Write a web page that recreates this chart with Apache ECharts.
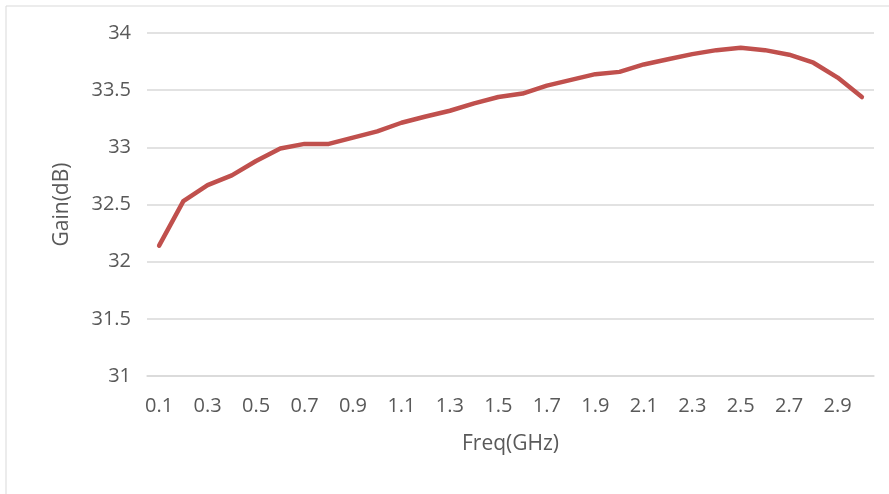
<!DOCTYPE html>
<html>
<head>
<meta charset="utf-8">
<script src="https://cdn.jsdelivr.net/npm/echarts@6/dist/echarts.min.js"></script>
<style>
html,body{margin:0;padding:0;background:#fff;}
#c{width:889px;height:494px;}
</style>
</head>
<body>
<div id="c"></div>
<script>
var categories = ['0.1','0.2','0.3','0.4','0.5','0.6','0.7','0.8','0.9','1','1.1','1.2','1.3','1.4','1.5','1.6','1.7','1.8','1.9','2','2.1','2.2','2.3','2.4','2.5','2.6','2.7','2.8','2.9','3'];
var gain = [32.14,32.53,32.67,32.755,32.88,32.99,33.03,33.03,33.085,33.14,33.215,33.27,33.32,33.385,33.44,33.47,33.54,33.59,33.64,33.66,33.725,33.77,33.815,33.85,33.87,33.85,33.81,33.74,33.61,33.44];
var xName = 'Freq(GHz)';
var yName = 'Gain(dB)';

var chart = echarts.init(document.getElementById('c'));
var font = '"Open Sans", "Noto Sans", sans-serif';
chart.setOption({
  animation: false,
  backgroundColor: '#ffffff',
  graphic: [{
    type: 'rect',
    shape: {x: 6, y: 6, width: 900, height: 500},
    style: {fill: 'none', stroke: '#d9d9d9', lineWidth: 1},
    silent: true
  }],
  grid: {left: 147, right: 15, top: 33, bottom: 118, containLabel: false},
  xAxis: {
    type: 'category',
    data: categories,
    boundaryGap: true,
    name: xName,
    nameLocation: 'middle',
    nameGap: 58,
    nameTextStyle: {color: '#595959', fontSize: 21, fontFamily: font},
    axisLine: {show: true, lineStyle: {color: '#d9d9d9', width: 1.5}},
    axisTick: {show: false},
    axisLabel: {interval: 1, color: '#595959', fontSize: 20, fontFamily: font, margin: 20}
  },
  yAxis: {
    type: 'value',
    min: 31,
    max: 34,
    interval: 0.5,
    name: yName,
    nameLocation: 'middle',
    nameGap: 74,
    nameRotate: 90,
    nameTextStyle: {color: '#595959', fontSize: 21, fontFamily: font},
    axisLine: {show: false},
    axisTick: {show: false},
    axisLabel: {color: '#595959', fontSize: 20, fontFamily: font, margin: 16},
    splitLine: {show: true, lineStyle: {color: '#d9d9d9', width: 1.5}}
  },
  series: [{
    type: 'line',
    data: gain,
    symbol: 'none',
    smooth: false,
    lineStyle: {color: '#c0504d', width: 4.5, cap: 'round', join: 'round'},
    itemStyle: {color: '#c0504d'}
  }]
});
</script>
</body>
</html>
